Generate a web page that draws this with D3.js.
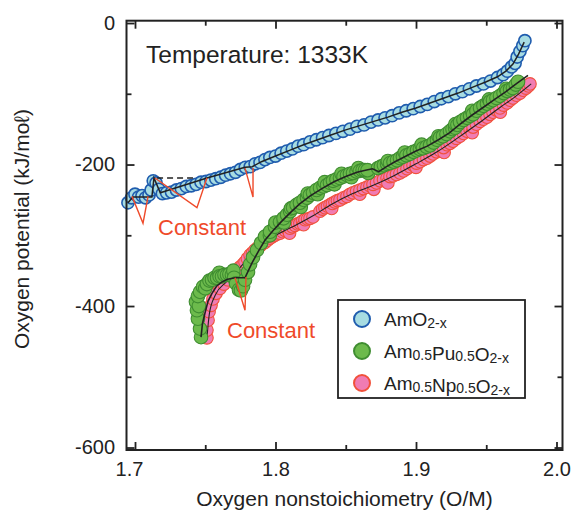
<!DOCTYPE html>
<html>
<head>
<meta charset="utf-8">
<script src="https://cdn.jsdelivr.net/npm/d3@7"></script>
<style>
  body { margin: 0; background: #fff; }
  svg { display: block; font-family: "Liberation Sans", Arial, sans-serif; }
</style>
</head>
<body>
<div id="chart"></div>
<script>
// measured points, [O/M, oxygen potential kJ/mol]
const amoPoints = [
  [1.6950,-254],[1.6975,-247],[1.7000,-242],[1.7025,-246],[1.7050,-244],[1.7075,-247],[1.7100,-243],
  [1.7115,-236],[1.7130,-223],[1.7150,-226],[1.7170,-235],[1.7195,-241],[1.7225,-240],[1.7260,-239],
  [1.7295,-236],[1.7330,-234],[1.7365,-231],[1.7400,-230],[1.7435,-228],[1.7470,-225],[1.7505,-224],
  [1.7540,-222],[1.7575,-220],[1.7610,-218],[1.7645,-215],[1.7680,-213],[1.7715,-211],[1.7750,-207],
  [1.7785,-204],[1.7820,-203],[1.7855,-199],[1.7890,-197],[1.7925,-193],[1.7960,-190],[1.8000,-188],
  [1.8040,-184],[1.8080,-181],[1.8120,-178],[1.8160,-174],[1.8200,-172],[1.8245,-168],[1.8290,-165],
  [1.8335,-162],[1.8380,-159],[1.8430,-156],[1.8480,-153],[1.8530,-150],[1.8580,-146],[1.8630,-144],
  [1.8680,-140],[1.8730,-137],[1.8780,-134],[1.8830,-131],[1.8880,-127],[1.8930,-124],[1.8980,-121],
  [1.9030,-118],[1.9080,-115],[1.9130,-111],[1.9180,-107],[1.9230,-104],[1.9280,-100],[1.9330,-97],
  [1.9380,-93],[1.9430,-89],[1.9480,-86],[1.9530,-82],[1.9580,-77],[1.9620,-73],[1.9650,-68],
  [1.9680,-62],[1.9705,-57],[1.9720,-48],[1.9740,-40],[1.9760,-32],[1.9775,-25]
];

const amPuPoints = [
  [1.7470,-444],[1.7463,-432],[1.7448,-418],[1.7441,-406],[1.7434,-394],[1.7455,-400],[1.7448,-386],
  [1.7463,-380],[1.7484,-373],[1.7500,-375],[1.7512,-369],[1.7530,-364],[1.7548,-363],[1.7566,-360],
  [1.7584,-360],[1.7600,-353],[1.7602,-358],[1.7619,-358],[1.7637,-356],[1.7655,-356],[1.7672,-355],
  [1.7690,-356],[1.7700,-350],[1.7705,-360],[1.7719,-368],[1.7740,-377],[1.7754,-378],[1.7769,-372],
  [1.7783,-363],[1.7804,-352],[1.7819,-341],[1.7840,-331],[1.7868,-321],[1.7897,-311],[1.7925,-302],
  [1.7960,-300],[1.7961,-295],[1.7996,-288],[1.8000,-282],[1.8032,-281],[1.8060,-282],[1.8057,-276],
  [1.8082,-271],[1.8104,-266],[1.8110,-262],[1.8125,-261],[1.8150,-257],[1.8180,-260],[1.8174,-254],
  [1.8200,-250],[1.8224,-247],[1.8230,-241],[1.8245,-243],[1.8267,-240],[1.8300,-242],[1.8292,-236],
  [1.8317,-233],[1.8342,-231],[1.8350,-225],[1.8367,-229],[1.8388,-226],[1.8420,-228],[1.8409,-223],
  [1.8434,-221],[1.8459,-219],[1.8470,-213],[1.8484,-217],[1.8509,-215],[1.8540,-218],[1.8530,-213],
  [1.8552,-212],[1.8577,-210],[1.8590,-205],[1.8601,-209],[1.8620,-208],[1.8660,-212],[1.8637,-208],
  [1.8655,-208],[1.8730,-205],[1.8750,-203],[1.8772,-201],[1.8794,-199],[1.8800,-195],[1.8815,-198],
  [1.8840,-196],[1.8865,-194],[1.8886,-191],[1.8907,-189],[1.8920,-183],[1.8932,-187],[1.8957,-185],
  [1.8982,-182],[1.9007,-180],[1.9028,-178],[1.9040,-172],[1.9050,-177],[1.9075,-175],[1.9100,-173],
  [1.9125,-169],[1.9149,-165],[1.9160,-160],[1.9170,-162],[1.9192,-160],[1.9217,-157],[1.9242,-153],
  [1.9260,-150],[1.9278,-148],[1.9280,-143],[1.9295,-144],[1.9313,-140],[1.9338,-137],[1.9363,-134],
  [1.9385,-131],[1.9400,-124],[1.9406,-129],[1.9430,-124],[1.9456,-120],[1.9480,-117],[1.9505,-114],
  [1.9520,-108],[1.9527,-111],[1.9548,-109],[1.9573,-106],[1.9598,-103],[1.9623,-99],[1.9640,-93],
  [1.9648,-96],[1.9670,-94],[1.9690,-92],[1.9710,-87],[1.9726,-83]
];

const amNpPoints = [
  [1.7512,-445],[1.7512,-434],[1.7520,-420],[1.7527,-408],[1.7541,-399],[1.7555,-390],[1.7577,-382],
  [1.7605,-375],[1.7633,-369],[1.7662,-363],[1.7690,-358],[1.7719,-351],[1.7747,-345],[1.7769,-341],
  [1.7783,-338],[1.7800,-333],[1.7819,-328],[1.7836,-325],[1.7854,-321],[1.7872,-318],[1.7890,-315],
  [1.7908,-312],[1.7925,-310],[1.7943,-307],[1.7961,-304],[1.7978,-302],[1.7996,-300],[1.8014,-298],
  [1.8032,-297],[1.8050,-295],[1.8068,-293],[1.8085,-291],[1.8100,-297],[1.8103,-290],[1.8120,-288],
  [1.8139,-286],[1.8157,-284],[1.8174,-283],[1.8192,-280],[1.8200,-285],[1.8210,-278],[1.8228,-277],
  [1.8246,-276],[1.8267,-274],[1.8317,-266],[1.8335,-263],[1.8352,-261],[1.8370,-259],[1.8388,-257],
  [1.8400,-262],[1.8405,-255],[1.8423,-253],[1.8441,-251],[1.8459,-250],[1.8484,-247],[1.8509,-245],
  [1.8530,-242],[1.8552,-240],[1.8577,-238],[1.8600,-242],[1.8601,-236],[1.8626,-234],[1.8651,-232],
  [1.8672,-230],[1.8700,-235],[1.8694,-228],[1.8719,-226],[1.8744,-223],[1.8769,-221],[1.8794,-219],
  [1.8800,-226],[1.8815,-217],[1.8836,-216],[1.8861,-214],[1.8886,-212],[1.8911,-209],[1.8936,-206],
  [1.8957,-203],[1.8979,-201],[1.9000,-204],[1.9003,-198],[1.9028,-196],[1.9053,-193],[1.9078,-191],
  [1.9100,-188],[1.9121,-185],[1.9146,-182],[1.9171,-180],[1.9200,-183],[1.9196,-176],[1.9221,-172],
  [1.9242,-170],[1.9263,-167],[1.9288,-163],[1.9313,-160],[1.9338,-156],[1.9363,-153],[1.9385,-150],
  [1.9400,-155],[1.9406,-147],[1.9430,-143],[1.9456,-139],[1.9480,-136],[1.9505,-133],[1.9527,-129],
  [1.9548,-126],[1.9573,-123],[1.9600,-126],[1.9598,-120],[1.9623,-116],[1.9648,-113],[1.9670,-109],
  [1.9690,-106],[1.9715,-102],[1.9740,-99],[1.9762,-95],[1.9783,-92],[1.9800,-89],[1.9811,-86]
];

// fitted curves
const amoFit = [
  [1.6950,-254],[1.6985,-246],[1.7120,-246],[1.7135,-219],[1.7180,-240],[1.7512,-219],[1.7783,-204],
  [1.7835,-203],[1.7900,-196],[1.8000,-188],[1.8100,-180],[1.8200,-172],[1.8300,-165],[1.8400,-158],
  [1.8500,-151],[1.8600,-145],[1.8700,-139],[1.8800,-133],[1.8900,-126],[1.9000,-120],[1.9100,-113],
  [1.9200,-106],[1.9300,-99],[1.9400,-91],[1.9500,-83],[1.9580,-76],[1.9640,-68],[1.9690,-58],
  [1.9730,-44],[1.9770,-27]
];
const amPuFit = [
  [1.7470,-444],[1.7480,-425],[1.7498,-410],[1.7520,-393],[1.7548,-382],[1.7580,-372],[1.7619,-366],
  [1.7660,-362],[1.7712,-360],[1.7783,-360],[1.7833,-339],[1.7880,-322],[1.7925,-307],[1.7980,-294],
  [1.8040,-281],[1.8100,-269],[1.8170,-256],[1.8250,-244],[1.8330,-234],[1.8420,-224],[1.8500,-217],
  [1.8580,-211],[1.8640,-208],[1.8690,-206],[1.8735,-210],[1.8790,-203],[1.8850,-196],[1.8930,-188],
  [1.9000,-181],[1.9080,-174],[1.9160,-165],[1.9240,-155],[1.9320,-142],[1.9400,-130],[1.9480,-119],
  [1.9560,-108],[1.9640,-97],[1.9720,-85],[1.9797,-74]
];
const amNpFit = [
  [1.7512,-445],[1.7530,-410],[1.7570,-385],[1.7650,-366],[1.7750,-345],[1.7850,-322],[1.7950,-306],
  [1.8050,-295],[1.8150,-285],[1.8270,-272],[1.8400,-256],[1.8550,-241],[1.8700,-229],[1.8850,-215],
  [1.9000,-199],[1.9150,-182],[1.9300,-162],[1.9450,-141],[1.9600,-119],[1.9700,-105],[1.9820,-86]
];
const dashedLevel = [[1.7157,-219],[1.7413,-219]];

// "Constant" pointer marks: each is arm - apex - arm
const constantMarksTop = [
  [[1.6979,-245],[1.7057,-283],[1.7093,-245]],
  [[1.7142,-219],[1.7441,-261],[1.7512,-219]],
  [[1.7783,-205],[1.7840,-246],[1.7840,-205]]
];
const constantMarksBottom = [
  [[1.7712,-360],[1.7783,-406],[1.7790,-359]]
];

const xMajor = [1.7, 1.8, 1.9, 2.0];
const xMinor = [1.75, 1.85, 1.95];
const yMajor = [0, -200, -400, -600];
const yMinor = [-100, -300, -500];

const seriesNames = [
  [["AmO", "2-x"]],
  [["Am", "0.5"], ["Pu", "0.5"], ["O", "2-x"]],
  [["Am", "0.5"], ["Np", "0.5"], ["O", "2-x"]]
];

const width = 573, height = 512;
const plotLeft = 126.5, plotRight = 562.5, plotTop = 20.7, plotBottom = 450;

const svg = d3.select("#chart").append("svg")
  .attr("width", width).attr("height", height);

const x = d3.scaleLinear().domain([1.69395, 2.00427]).range([plotLeft, plotRight]);
const y = d3.scaleLinear().domain([-603.5, 3.3]).range([plotBottom, plotTop]);

const styles = {
  amo:  { fill: "#a7dce2", stroke: "#1f5cae", r: 6.1, sw: 1.6 },
  amPu: { fill: "#6cba4c", stroke: "#3f8d31", r: 6.8, sw: 1.1 },
  amNp: { fill: "#f07cb3", stroke: "#f1513b", r: 6.3, sw: 1.1 }
};
const red = "#ef4a2a";

const line = d3.line().x(d => x(d[0])).y(d => y(d[1]));
const smooth = d3.line().x(d => x(d[0])).y(d => y(d[1])).curve(d3.curveMonotoneX);

const plot = svg.append("g");

function drawPoints(data, s) {
  plot.append("g").selectAll("circle").data(data).enter().append("circle")
    .attr("cx", d => x(d[0])).attr("cy", d => y(d[1])).attr("r", s.r)
    .attr("fill", s.fill).attr("stroke", s.stroke).attr("stroke-width", s.sw);
}
function drawFit(data, w, curved) {
  plot.append("path").datum(data)
    .attr("d", curved ? smooth : line)
    .attr("fill", "none").attr("stroke", "#222").attr("stroke-width", w);
}

drawPoints(amNpPoints, styles.amNp);
drawFit(amNpFit, 1.1, true);
drawPoints(amPuPoints, styles.amPu);
drawFit(amPuFit, 1.6, false);
drawPoints(amoPoints, styles.amo);
drawFit(amoFit, 1.5, false);

plot.append("path").datum(dashedLevel).attr("d", line)
  .attr("fill", "none").attr("stroke", "#222").attr("stroke-width", 1.4)
  .attr("stroke-dasharray", "6,4");

constantMarksTop.concat(constantMarksBottom).forEach(m => {
  plot.append("path").datum(m).attr("d", line)
    .attr("fill", "none").attr("stroke", red).attr("stroke-width", 1.4);
});

svg.append("text").attr("x", 158).attr("y", 235).attr("fill", red)
  .attr("font-size", 22).text("Constant");
svg.append("text").attr("x", 227).attr("y", 338).attr("fill", red)
  .attr("font-size", 22).text("Constant");

svg.append("text").attr("x", 146).attr("y", 63).attr("fill", "#222")
  .attr("font-size", 24.5).text("Temperature: 1333K");

// axes with inward ticks
function styleAxis(g) {
  g.select(".domain").remove();
  g.selectAll("line").attr("stroke", "#222").attr("stroke-width", 1.8);
  g.selectAll("text").attr("font-size", 20).attr("fill", "#222")
    .attr("font-family", '"Liberation Sans", Arial, sans-serif');
}
const bx = svg.append("g").attr("transform", `translate(0,${plotBottom})`)
  .call(d3.axisBottom(x).tickValues(xMajor).tickSize(-8).tickPadding(12).tickFormat(d3.format(".1f")));
styleAxis(bx);
bx.selectAll("text").filter(d => d === 1.7).attr("dx", -6);
styleAxis(svg.append("g").attr("transform", `translate(0,${plotBottom})`)
  .call(d3.axisBottom(x).tickValues(xMinor).tickSize(-5).tickFormat("")));
styleAxis(svg.append("g").attr("transform", `translate(0,${plotTop})`)
  .call(d3.axisTop(x).tickValues(xMajor).tickSize(-8).tickFormat("")));
styleAxis(svg.append("g").attr("transform", `translate(0,${plotTop})`)
  .call(d3.axisTop(x).tickValues(xMinor).tickSize(-5).tickFormat("")));

styleAxis(svg.append("g").attr("transform", `translate(${plotLeft},0)`)
  .call(d3.axisLeft(y).tickValues(yMajor).tickSize(-8).tickPadding(11.5).tickFormat(d => String(d))));
styleAxis(svg.append("g").attr("transform", `translate(${plotLeft},0)`)
  .call(d3.axisLeft(y).tickValues(yMinor).tickSize(-5).tickFormat("")));
styleAxis(svg.append("g").attr("transform", `translate(${plotRight},0)`)
  .call(d3.axisRight(y).tickValues(yMajor).tickSize(-8).tickFormat("")));
styleAxis(svg.append("g").attr("transform", `translate(${plotRight},0)`)
  .call(d3.axisRight(y).tickValues(yMinor).tickSize(-5).tickFormat("")));

svg.append("rect").attr("x", plotLeft).attr("y", plotTop)
  .attr("width", plotRight - plotLeft).attr("height", plotBottom - plotTop)
  .attr("fill", "none").attr("stroke", "#222").attr("stroke-width", 2);

svg.append("text").attr("x", (plotLeft + plotRight) / 2).attr("y", 506)
  .attr("text-anchor", "middle").attr("font-size", 21).attr("fill", "#222")
  .text("Oxygen nonstoichiometry (O/M)");
svg.append("text").attr("transform", "translate(29,229) rotate(-90)")
  .attr("text-anchor", "middle").attr("font-size", 21).attr("fill", "#222")
  .text("Oxygen potential (kJ/moℓ)");

// legend
const legend = svg.append("g");
legend.append("rect").attr("x", 338).attr("y", 300).attr("width", 187).attr("height", 98)
  .attr("fill", "#fff").attr("stroke", "#222").attr("stroke-width", 1.8);
const legendStyles = [styles.amo, styles.amPu, styles.amNp];
seriesNames.forEach((parts, i) => {
  const cy = 319 + i * 32;
  const s = legendStyles[i];
  legend.append("circle").attr("cx", 362).attr("cy", cy).attr("r", 8)
    .attr("fill", s.fill).attr("stroke", s.stroke).attr("stroke-width", 2);
  const t = legend.append("text").attr("x", 384).attr("y", cy + 7)
    .attr("font-size", 19).attr("fill", "#222");
  parts.forEach(p => {
    t.append("tspan").text(p[0]);
    t.append("tspan").attr("font-size", 14).attr("dy", 1.5).text(p[1]);
    t.append("tspan").attr("dy", -1.5).text("");
  });
});
</script>
</body>
</html>
